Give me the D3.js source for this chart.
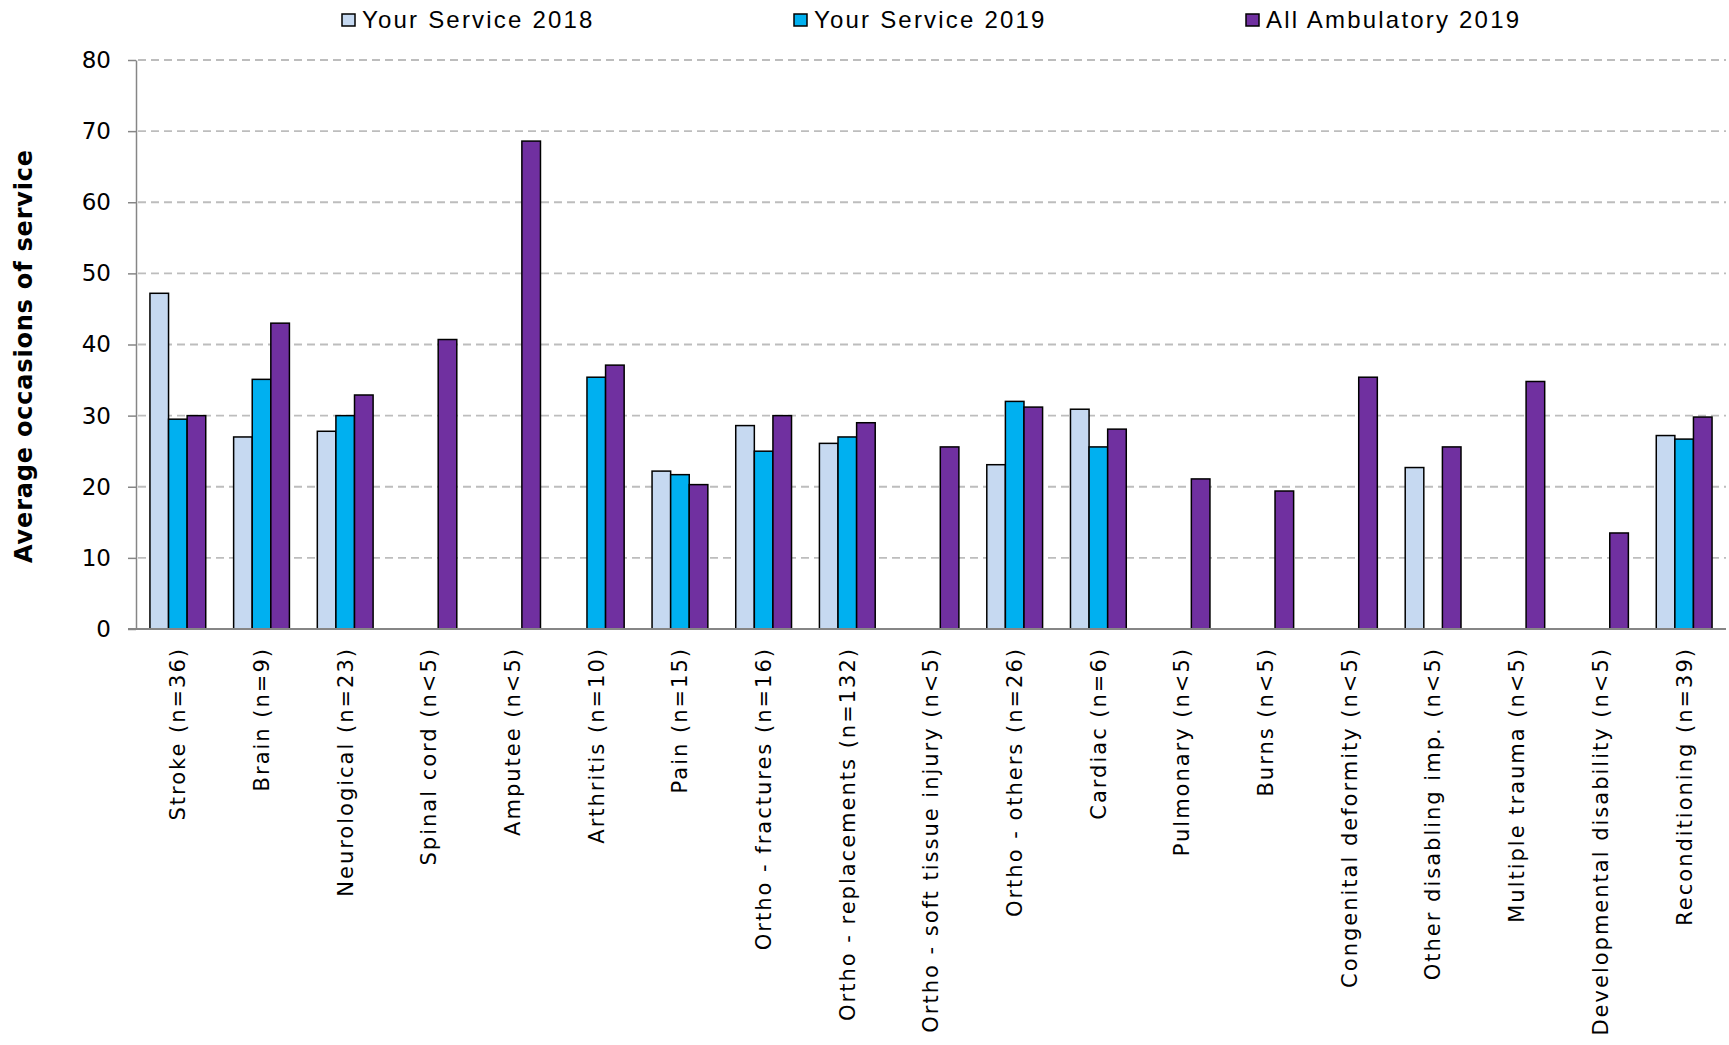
<!DOCTYPE html>
<html>
<head>
  <meta charset="utf-8" />
  <title>Average occasions of service</title>
  <script src="https://cdnjs.cloudflare.com/ajax/libs/d3/7.8.5/d3.min.js"></script>
  <style>
    html, body { margin: 0; padding: 0; background: #fff; }
    svg { display: block; }
  </style>
</head>
<body>
  <div id="chart"></div>

  <script>
    // data
    var categories = ["Stroke (n=36)", "Brain (n=9)", "Neurological (n=23)", "Spinal cord (n<5)",
      "Amputee (n<5)", "Arthritis (n=10)", "Pain (n=15)", "Ortho - fractures (n=16)",
      "Ortho - replacements (n=132)", "Ortho - soft tissue injury (n<5)", "Ortho - others (n=26)",
      "Cardiac (n=6)", "Pulmonary (n<5)", "Burns (n<5)", "Congenital deformity (n<5)",
      "Other disabling imp. (n<5)", "Multiple trauma (n<5)", "Developmental disability (n<5)",
      "Reconditioning (n=39)"];

    var seriesNames = ["Your Service 2018", "Your Service 2019", "All Ambulatory 2019"];

    var service2018 = [47.2, 27.0, 27.8, null, null, null, 22.2, 28.6, 26.1, null, 23.1, 30.9,
      null, null, null, 22.7, null, null, 27.2];
    var service2019 = [29.5, 35.1, 30.0, null, null, 35.4, 21.7, 25.0, 27.0, null, 32.0, 25.6,
      null, null, null, null, null, null, 26.7];
    var ambulatory2019 = [30.0, 43.0, 32.9, 40.7, 68.6, 37.1, 20.3, 30.0, 29.0, 25.6, 31.2, 28.1,
      21.1, 19.4, 35.4, 25.6, 34.8, 13.5, 29.8];

    var yTicks = [0, 10, 20, 30, 40, 50, 60, 70, 80];

    var colors = ["#C6D9F1", "#00B0F0", "#7030A0"];

    var width = 1729, height = 1045;
    var plotLeft = 136, plotRight = 1726, plotTop = 60, plotBottom = 629;

    var svg = d3.select("#chart")
      .append("svg")
      .attr("width", width)
      .attr("height", height);

    var x0 = d3.scaleBand()
      .domain(categories)
      .range([plotLeft, plotRight])
      .paddingInner(1 / 3)
      .paddingOuter(1 / 6);

    var x1 = d3.scaleBand()
      .domain(seriesNames)
      .range([0, x0.bandwidth()]);

    var y = d3.scaleLinear()
      .domain([0, 80])
      .range([plotBottom, plotTop]);

    // gridlines
    svg.append("g")
      .selectAll("line")
      .data(yTicks.filter(function(d) { return d > 0; }))
      .enter().append("line")
      .attr("x1", plotLeft + 2)
      .attr("x2", plotRight)
      .attr("y1", function(d) { return y(d); })
      .attr("y2", function(d) { return y(d); })
      .attr("stroke", "#bdbdbd")
      .attr("stroke-width", 1.8)
      .attr("stroke-dasharray", "8,5");

    // y axis
    var yAxis = svg.append("g")
      .attr("transform", "translate(" + plotLeft + ",0)")
      .call(d3.axisLeft(y).tickValues(yTicks).tickSize(8).tickPadding(17).tickSizeOuter(0));
    yAxis.select(".domain").attr("stroke", "#868686").attr("stroke-width", 1.5);
    yAxis.selectAll(".tick line").attr("stroke", "#868686").attr("stroke-width", 1.5);
    yAxis.selectAll(".tick text")
      .attr("font-family", "'DejaVu Sans', Verdana, sans-serif")
      .attr("font-size", 23)
      .attr("fill", "#000");

    // bars
    var rows = categories.map(function(c, i) {
      return { cat: c, values: [service2018[i], service2019[i], ambulatory2019[i]] };
    });

    var groups = svg.append("g")
      .selectAll("g")
      .data(rows)
      .enter().append("g")
      .attr("transform", function(d) { return "translate(" + x0(d.cat) + ",0)"; });

    groups.selectAll("rect")
      .data(function(d) {
        return d.values.map(function(v, k) { return { key: seriesNames[k], k: k, v: v }; })
          .filter(function(e) { return e.v != null; });
      })
      .enter().append("rect")
      .attr("x", function(d) { return x1(d.key); })
      .attr("width", x1.bandwidth())
      .attr("y", function(d) { return y(d.v); })
      .attr("height", function(d) { return y(0) - y(d.v); })
      .attr("fill", function(d) { return colors[d.k]; })
      .attr("stroke", "#000")
      .attr("stroke-width", 1.5);

    // x axis line
    svg.append("line")
      .attr("x1", plotLeft - 8)
      .attr("x2", plotRight)
      .attr("y1", plotBottom)
      .attr("y2", plotBottom)
      .attr("stroke", "#868686")
      .attr("stroke-width", 2);

    // x labels
    svg.append("g")
      .selectAll("text")
      .data(categories)
      .enter().append("text")
      .attr("transform", function(d) {
        return "translate(" + (x0(d) + x0.bandwidth() / 2) + "," + (plotBottom + 18) + ") rotate(-90)";
      })
      .attr("text-anchor", "end")
      .attr("dy", "0.35em")
      .attr("font-family", "'DejaVu Sans', Verdana, sans-serif")
      .attr("font-size", 21)
      .attr("letter-spacing", 2)
      .attr("fill", "#000")
      .text(function(d) { return d; });

    // y title
    svg.append("text")
      .attr("transform", "translate(32,356) rotate(-90)")
      .attr("text-anchor", "middle")
      .attr("font-family", "'DejaVu Sans', Verdana, sans-serif")
      .attr("font-weight", "bold")
      .attr("font-size", 24)
      .attr("letter-spacing", 0.8)
      .attr("fill", "#000")
      .text("Average occasions of service");

    // legend
    var legendX = [342, 794, 1246];
    var legend = svg.append("g")
      .selectAll("g")
      .data(seriesNames)
      .enter().append("g")
      .attr("transform", function(d, i) { return "translate(" + legendX[i] + ",0)"; });

    legend.append("rect")
      .attr("x", 0)
      .attr("y", 14)
      .attr("width", 13)
      .attr("height", 12)
      .attr("fill", function(d, i) { return colors[i]; })
      .attr("stroke", "#000")
      .attr("stroke-width", 1.5);

    legend.append("text")
      .attr("x", 20)
      .attr("y", 28)
      .attr("font-family", "'Liberation Sans', Arial, sans-serif")
      .attr("font-size", 24)
      .attr("letter-spacing", 2.2)
      .attr("fill", "#000")
      .text(function(d) { return d; });
  </script>
</body>
</html>
